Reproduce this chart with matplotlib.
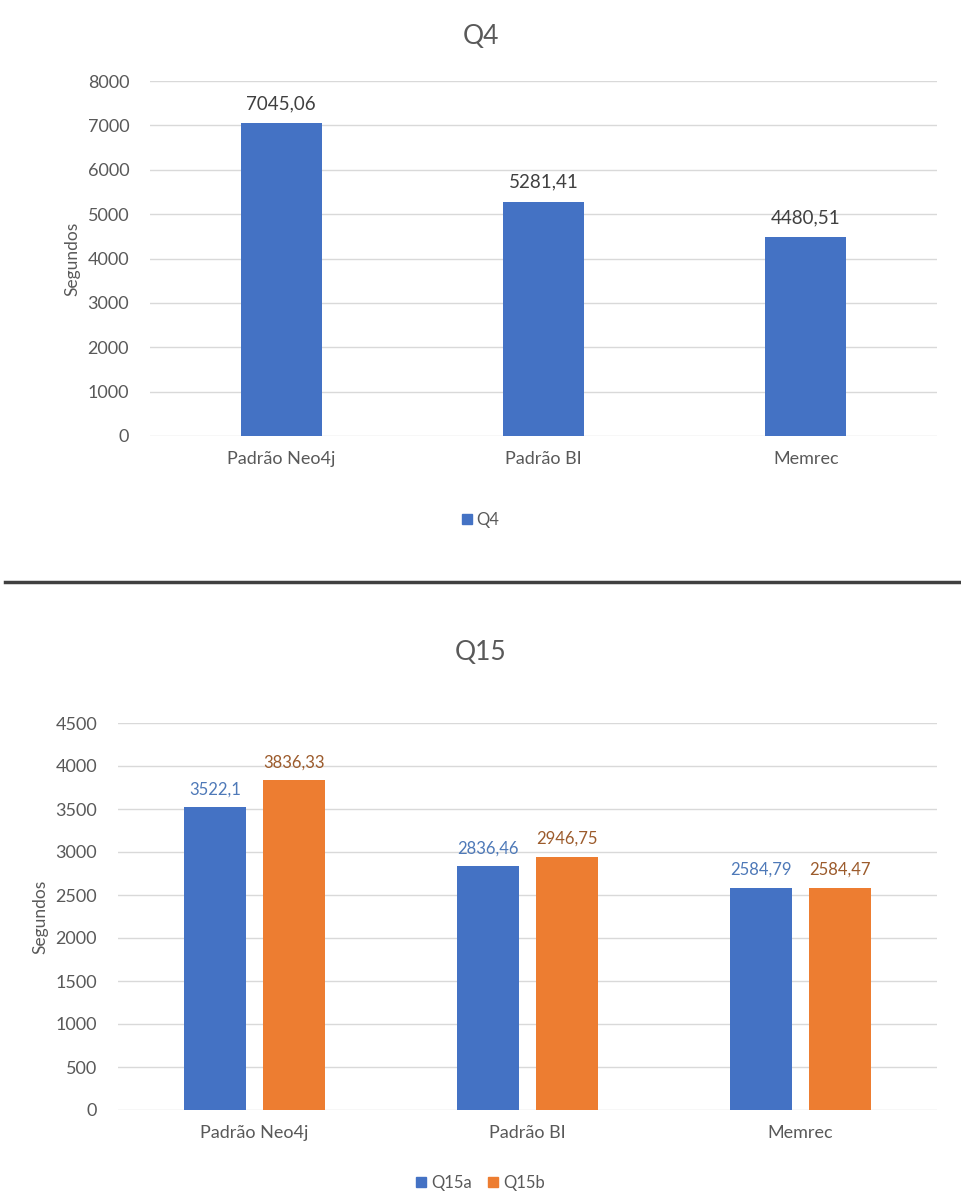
import matplotlib
matplotlib.use("Agg")
import matplotlib.pyplot as plt
import matplotlib.patches as mpatches
import numpy as np

plt.rcParams['font.family'] = ['Lato', 'DejaVu Sans']

# data
categorias = ["Padrão Neo4j", "Padrão BI", "Memrec"]
q4 = [7045.06, 5281.41, 4480.51]
q15a = [3522.1, 2836.46, 2584.79]
q15b = [3836.33, 2946.75, 2584.47]
q4_rotulos = ["7045,06", "5281,41", "4480,51"]
q15a_rotulos = ["3522,1", "2836,46", "2584,79"]
q15b_rotulos = ["3836,33", "2946,75", "2584,47"]

azul = "#4472C4"
laranja = "#ED7D31"
cinza_txt = "#595959"
cinza_grade = "#D9D9D9"

W, H = 961, 1201
fig = plt.figure(figsize=(W / 100, H / 100), dpi=100)

def px_axes(x0, y0, x1, y1):
    # pixel box (top-left origin) -> figure fraction
    return fig.add_axes([x0 / W, 1 - y1 / H, (x1 - x0) / W, (y1 - y0) / H])

def estilo(ax, ymax, passo, pad_y):
    ax.set_ylim(0, ymax)
    ax.set_yticks(np.arange(0, ymax + 1, passo))
    ax.set_xlim(-0.5, 2.5)
    ax.set_xticks(range(3))
    ax.set_xticklabels(categorias)
    for s in ax.spines.values():
        s.set_visible(False)
    ax.yaxis.grid(True, color=cinza_grade, lw=1)
    ax.set_axisbelow(True)
    ax.tick_params(length=0, labelsize=13, colors=cinza_txt)
    ax.tick_params(axis='y', pad=pad_y)
    ax.tick_params(axis='x', pad=11)
    ax.set_ylabel("Segundos", fontsize=12.5, color=cinza_txt, labelpad=5)

# --- Q4 ---
ax1 = px_axes(150, 81, 937, 436)
x = np.arange(3)
b1 = ax1.bar(x, q4, width=0.31, color=azul, label="Q4")
estilo(ax1, 8000, 1000, 15)
for r, t in zip(b1, q4_rotulos):
    ax1.annotate(t, (r.get_x() + r.get_width() / 2, r.get_height()),
                 xytext=(0, 8), textcoords="offset points",
                 ha="center", va="bottom", fontsize=13.5, color="#404040")
fig.text(0.5, 1 - 37 / H, "Q4", ha="center", va="center", fontsize=19, color=cinza_txt)
fig.legend(handles=[mpatches.Patch(color=azul, label="Q4")],
           loc="center", bbox_to_anchor=(0.5, 1 - 520 / H), frameon=False,
           fontsize=12, handlelength=0.6, handleheight=0.6, handletextpad=0.3,
           labelcolor=cinza_txt)

# separator line
fig.add_artist(plt.Line2D([5 / W, 1], [1 - 582 / H, 1 - 582 / H], color="#404040", lw=2.5))

# --- Q15 ---
ax2 = px_axes(118, 723, 937, 1110)
off = 0.145
ba = ax2.bar(x - off, q15a, width=0.23, color=azul, label="Q15a")
bb = ax2.bar(x + off, q15b, width=0.23, color=laranja, label="Q15b")
estilo(ax2, 4500, 500, 15)
for barras, rot, cor in [(ba, q15a_rotulos, "#4E79B8"), (bb, q15b_rotulos, "#9C5B2C")]:
    for r, t in zip(barras, rot):
        ax2.annotate(t, (r.get_x() + r.get_width() / 2, r.get_height()),
                     xytext=(0, 7), textcoords="offset points",
                     ha="center", va="bottom", fontsize=12, color=cor)
fig.text(0.5, 1 - 652 / H, "Q15", ha="center", va="center", fontsize=19, color=cinza_txt)
fig.legend(handles=[mpatches.Patch(color=azul, label="Q15a"),
                    mpatches.Patch(color=laranja, label="Q15b")],
           loc="center", bbox_to_anchor=(0.5, 1 - 1183 / H), frameon=False, ncol=2,
           fontsize=12, handlelength=0.6, handleheight=0.6, handletextpad=0.3,
           columnspacing=1.0, labelcolor=cinza_txt)

fig.savefig("out.png", dpi=100)
